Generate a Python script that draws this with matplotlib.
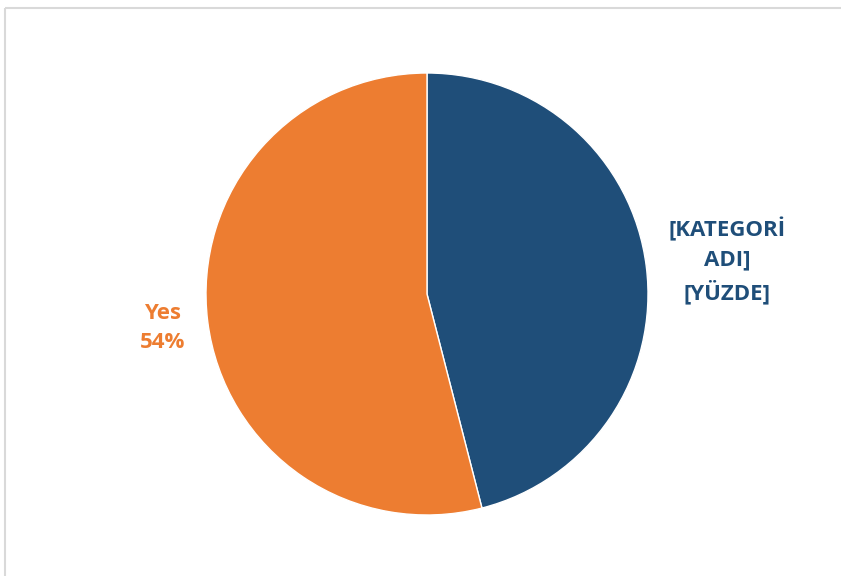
import matplotlib.pyplot as plt
from matplotlib.patches import Rectangle

# data
categories = ['[KATEGORİ\nADI]\n[YÜZDE]', 'Yes\n54%']
values = [46, 54]
colors = ['#1F4E79', '#ED7D31']

W, H = 841, 576
fig = plt.figure(figsize=(W / 100, H / 100), dpi=100)

# chart border (light gray frame, cut off at right/bottom)
fig.patches.append(Rectangle((4.5 / W, 1 - 7.5 / H), 2, -2, transform=fig.transFigure,
                             fill=False, edgecolor='#D9D9D9', linewidth=1.5))

# pie axes: center (427, 294), radius 221 px
cx, cy, r = 427, 294, 221
ax = fig.add_axes([(cx - r) / W, 1 - (cy + r) / H, 2 * r / W, 2 * r / H])
ax.pie(values, colors=colors, startangle=90, counterclock=False, radius=1,
       wedgeprops={'linewidth': 1.0, 'edgecolor': 'white'})
ax.set_xlim(-1, 1)
ax.set_ylim(-1, 1)
ax.set_aspect('equal')

# data labels
fig.text(727 / W, 1 - 261 / H, categories[0], color=colors[0], fontsize=16,
         fontweight='bold', family='Open Sans', ha='center', va='center', linespacing=1.5)
fig.text(163 / W, 1 - 328 / H, categories[1], color=colors[1], fontsize=16,
         fontweight='bold', family='Open Sans', ha='center', va='center', linespacing=1.5)

plt.savefig('out.png', dpi=100)
